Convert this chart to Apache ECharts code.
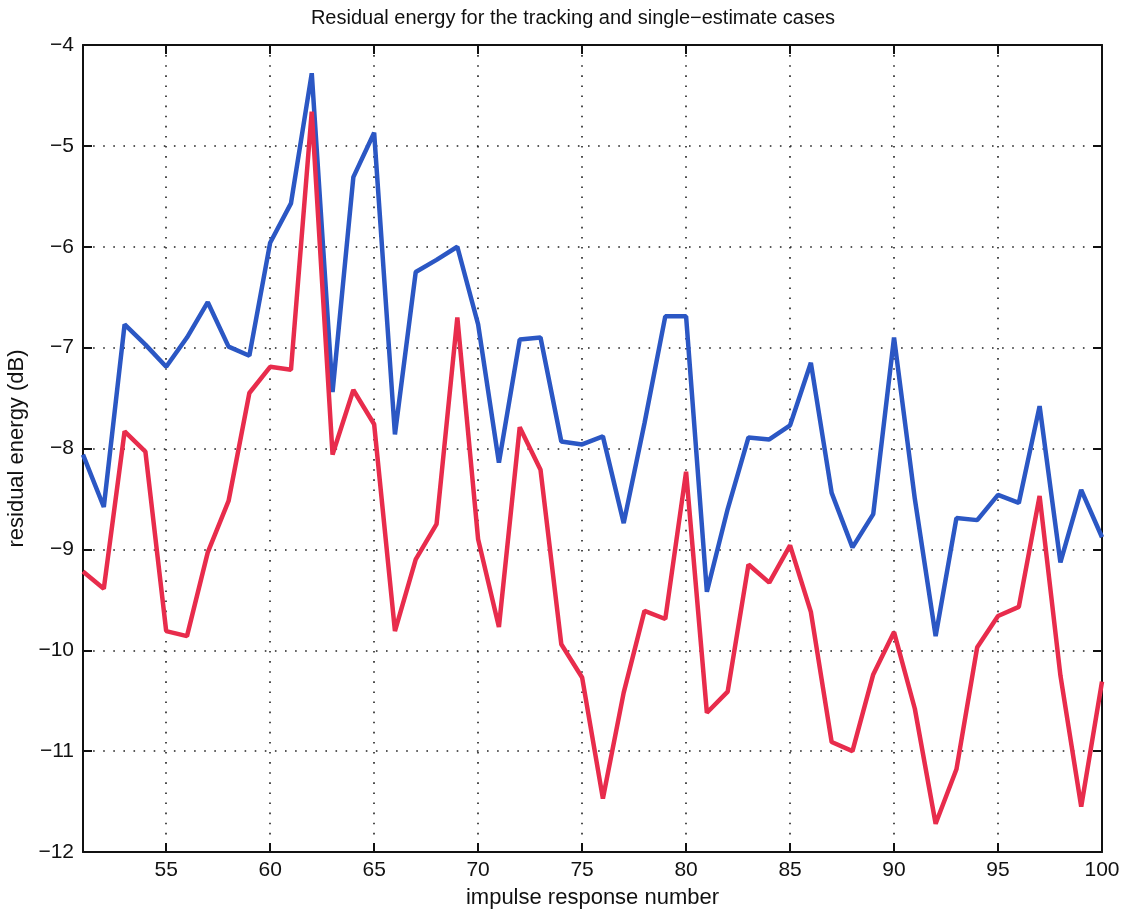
<!DOCTYPE html>
<html><head><meta charset="utf-8">
<script src="https://cdn.jsdelivr.net/npm/echarts@6/dist/echarts.min.js"></script>
<style>html,body{margin:0;padding:0;background:#fff}#c{width:1128px;height:915px}</style>
</head><body><div id="c"></div>
<script>
const titleText = "Residual energy for the tracking and single\u2212estimate cases";
const xName = "impulse response number";
const yName = "residual energy (dB)";
const impulse = [51,52,53,54,55,56,57,58,59,60,61,62,63,64,65,66,67,68,69,70,71,72,73,74,75,76,77,78,79,80,81,82,83,84,85,86,87,88,89,90,91,92,93,94,95,96,97,98,99,100];
const blueValues = [-8.06,-8.58,-6.77,-6.97,-7.19,-6.90,-6.55,-6.99,-7.08,-5.96,-5.57,-4.28,-7.44,-5.31,-4.87,-7.86,-6.25,-6.13,-6.00,-6.77,-8.14,-6.92,-6.90,-7.93,-7.96,-7.88,-8.74,-7.75,-6.69,-6.69,-9.42,-8.60,-7.89,-7.91,-7.77,-7.15,-8.44,-8.98,-8.65,-6.90,-8.50,-9.86,-8.69,-8.71,-8.46,-8.54,-7.58,-9.13,-8.41,-8.88];
const redValues = [-9.22,-9.39,-7.83,-8.03,-9.81,-9.86,-9.03,-8.52,-7.45,-7.19,-7.22,-4.66,-8.06,-7.42,-7.76,-9.81,-9.10,-8.75,-6.70,-8.90,-9.77,-7.79,-8.21,-9.94,-10.27,-11.47,-10.42,-9.61,-9.69,-8.23,-10.62,-10.41,-9.15,-9.33,-8.96,-9.62,-10.91,-11.00,-10.24,-9.82,-10.58,-11.72,-11.18,-9.97,-9.66,-9.57,-8.47,-10.25,-11.55,-10.31];
const xTicks = [55,60,65,70,75,80,85,90,95,100];

const font = "'Liberation Sans',Arial,sans-serif";
const gridLine = {show:true, lineStyle:{color:'#222', type:[1.6,8.5], width:1.6}};
const chart = echarts.init(document.getElementById('c'));
const mk = (vals) => impulse.map((n,i)=>[n, vals[i]]);
chart.setOption({
  animation:false,
  backgroundColor:'#fff',
  title:{text:titleText, left:568, top:3, textAlign:'center', textStyle:{fontFamily:font, fontSize:20, fontWeight:'normal', color:'#111'}},
  grid:{left:83, right:26, top:45, bottom:63, show:false, containLabel:false, outerBoundsMode:'none'},
  xAxis:[{
    type:'value', min:51, max:100, position:'bottom',
    name:xName, nameLocation:'middle', nameGap:35,
    nameTextStyle:{fontFamily:font, fontSize:22, color:'#111'},
    axisLine:{show:true, onZero:false, lineStyle:{color:'#111', width:2}},
    axisTick:{show:true, inside:true, length:9, customValues:xTicks, lineStyle:{color:'#111', width:2}},
    axisLabel:{customValues:xTicks, fontFamily:font, fontSize:21, color:'#111', margin:8},
    splitLine:gridLine
  },{
    type:'value', min:51, max:100, position:'top',
    axisLine:{show:true, onZero:false, lineStyle:{color:'#111', width:2}},
    axisTick:{show:true, inside:true, length:9, customValues:xTicks, lineStyle:{color:'#111', width:2}},
    axisLabel:{show:false}, splitLine:{show:false}
  }],
  yAxis:[{
    type:'value', min:-12, max:-4, interval:1, position:'left',
    name:yName, nameLocation:'middle', nameGap:46, nameRotate:90,
    nameTextStyle:{fontFamily:font, fontSize:22, color:'#111'},
    axisLine:{show:true, onZero:false, lineStyle:{color:'#111', width:2}},
    axisTick:{show:true, inside:true, length:9, lineStyle:{color:'#111', width:2}},
    axisLabel:{fontFamily:font, fontSize:21, color:'#111', margin:9, formatter:v=>String(v).replace('-', '\u2212')},
    splitLine:gridLine
  },{
    type:'value', min:-12, max:-4, interval:1, position:'right',
    axisLine:{show:true, onZero:false, lineStyle:{color:'#111', width:2}},
    axisTick:{show:true, inside:true, length:9, lineStyle:{color:'#111', width:2}},
    axisLabel:{show:false}, splitLine:{show:false}
  }],
  series:[
    {type:'line', name:'tracking', data:mk(blueValues), showSymbol:false, symbol:'none', lineStyle:{color:'#2b57c4', width:4.5}, z:3},
    {type:'line', name:'single-estimate', data:mk(redValues), showSymbol:false, symbol:'none', lineStyle:{color:'#e82c4c', width:4.5}, z:4}
  ]
});
</script></body></html>
